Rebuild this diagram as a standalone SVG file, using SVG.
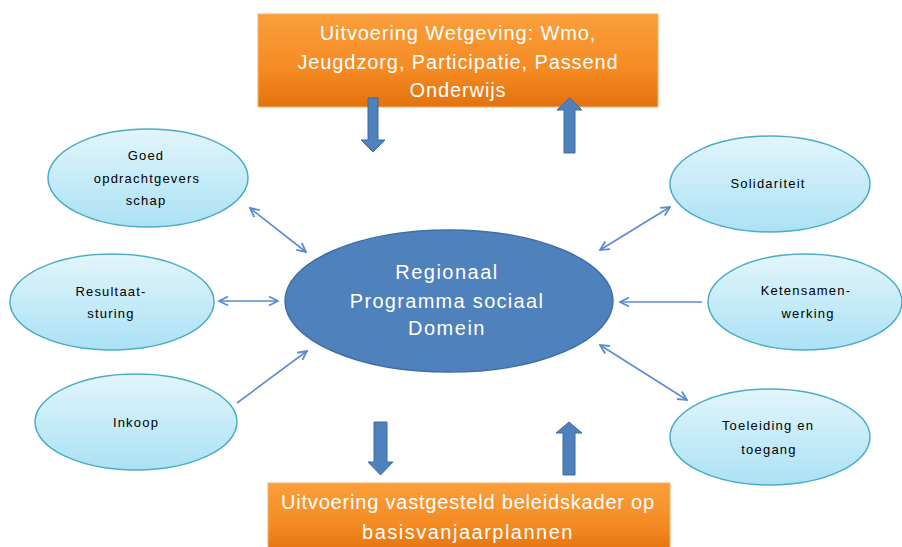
<svg xmlns="http://www.w3.org/2000/svg" width="902" height="547" viewBox="0 0 902 547">
<style>
.small{fill:url(#gLight);stroke:#4bacc6;stroke-width:1.5}
.st{font-family:"Liberation Sans",Arial,sans-serif;font-size:13px;letter-spacing:1.2px;fill:#000;text-anchor:middle}
.big{font-family:"Liberation Sans",Arial,sans-serif;font-size:20px;letter-spacing:0.9px;fill:#fff;text-anchor:middle}
.con{stroke:#5a8ccf;stroke-width:1.6;fill:none}
.blk{fill:#4f81bd;stroke:#3d6aa0;stroke-width:1}
.box{fill:url(#gOrange);stroke:#f7b06a;stroke-width:1}
</style>
<defs>
<linearGradient id="gLight" x1="0" y1="0" x2="0" y2="1">
<stop offset="0" stop-color="#e2f5fb"/>
<stop offset="1" stop-color="#abe1f5"/>
</linearGradient>
<linearGradient id="gOrange" x1="0" y1="0" x2="0" y2="1">
<stop offset="0" stop-color="#fa9f3c"/>
<stop offset="0.6" stop-color="#f58a22"/>
<stop offset="1" stop-color="#e2720e"/>
</linearGradient>
<marker id="ah" viewBox="0 0 10 10" refX="9" refY="5" markerWidth="7" markerHeight="7" markerUnits="strokeWidth" orient="auto-start-reverse">
<path d="M1,1 L9,5 L1,9" fill="none" stroke="#5a8ccf" stroke-width="1.6"/>
</marker>
</defs>
<rect width="902" height="547" fill="#fff"/>

<g id="top-box">
<rect class="box" x="258" y="14" width="400" height="93"/>
<text class="big" x="458" y="40">Uitvoering Wetgeving: Wmo,</text>
<text class="big" x="458" y="69">Jeugdzorg, Participatie, Passend</text>
<text class="big" x="458" y="97">Onderwijs</text>
</g>

<g id="bottom-box">
<rect class="box" x="268" y="483" width="402" height="70"/>
<text class="big" x="468" y="509" style="letter-spacing:0.8px">Uitvoering vastgesteld beleidskader op</text>
<text class="big" x="468" y="539" style="letter-spacing:1.5px">basisvanjaarplannen</text>
</g>

<g id="block-arrows">
<path class="blk" d="M368,98 H378 V140 H385 L373,152 L361,140 H368 Z"/>
<path class="blk" d="M564,153 H575 V110 H582 L569.5,98 L557,110 H564 Z"/>
<path class="blk" d="M374,422 H387 V462 H393 L380.5,475 L368,462 H374 Z"/>
<path class="blk" d="M563,475 H575 V433 H582 L569,422 L556,433 H563 Z"/>
</g>

<g id="center">
<ellipse cx="449" cy="301" rx="164" ry="71" fill="#4f81bd" stroke="#3f6fa8" stroke-width="1.5"/>
<text class="big" x="447" y="279" style="letter-spacing:1.5px">Regionaal</text>
<text class="big" x="447" y="308" style="letter-spacing:1.3px">Programma sociaal</text>
<text class="big" x="447" y="335" style="letter-spacing:1.5px">Domein</text>
</g>

<g id="goed">
<ellipse class="small" cx="148" cy="178" rx="100" ry="49"/>
<text class="st" x="146" y="160">Goed</text>
<text class="st" x="147" y="183">opdrachtgevers</text>
<text class="st" x="146" y="205">schap</text>
</g>
<g id="resultaat">
<ellipse class="small" cx="112" cy="302" rx="102" ry="48"/>
<text class="st" x="111" y="296">Resultaat-</text>
<text class="st" x="111" y="318">sturing</text>
</g>
<g id="inkoop">
<ellipse class="small" cx="136" cy="422" rx="101" ry="48"/>
<text class="st" x="136" y="427">Inkoop</text>
</g>
<g id="solidariteit">
<ellipse class="small" cx="770" cy="184" rx="100" ry="48"/>
<text class="st" x="768" y="188">Solidariteit</text>
</g>
<g id="ketensamenwerking">
<ellipse class="small" cx="805" cy="302" rx="97" ry="48"/>
<text class="st" x="806" y="295">Ketensamen-</text>
<text class="st" x="808" y="318">werking</text>
</g>
<g id="toeleiding">
<ellipse class="small" cx="770" cy="437" rx="100" ry="48"/>
<text class="st" x="768" y="430">Toeleiding en</text>
<text class="st" x="769" y="454">toegang</text>
</g>

<g id="connectors">
<line class="con" x1="250" y1="208" x2="306" y2="252" marker-start="url(#ah)" marker-end="url(#ah)"/>
<line class="con" x1="219" y1="301" x2="278" y2="301" marker-start="url(#ah)" marker-end="url(#ah)"/>
<line class="con" x1="237" y1="403" x2="307" y2="351" marker-end="url(#ah)"/>
<line class="con" x1="600" y1="250" x2="670" y2="207" marker-start="url(#ah)" marker-end="url(#ah)"/>
<line class="con" x1="702" y1="302" x2="620" y2="302" marker-end="url(#ah)"/>
<line class="con" x1="600" y1="345" x2="687" y2="400" marker-start="url(#ah)" marker-end="url(#ah)"/>
</g>
</svg>
